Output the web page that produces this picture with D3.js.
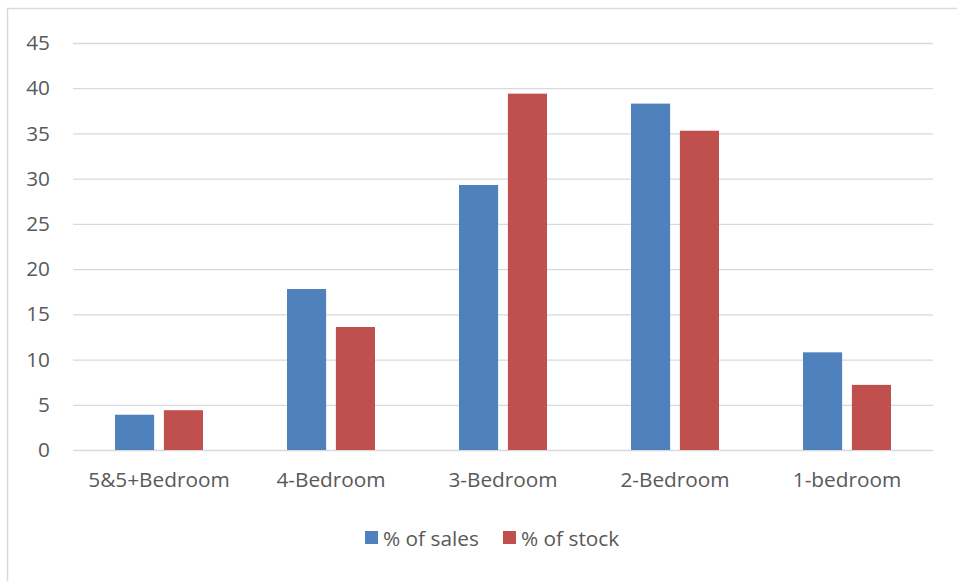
<!DOCTYPE html>
<html lang="en">
  <head>
    <meta charset="UTF-8" />
    <title>Sales vs stock by bedrooms</title>
    <script src="https://cdn.jsdelivr.net/npm/d3@7"></script>
    <style>
      body { margin: 0; background: #fff; }
      text { font-family: "Open Sans", sans-serif; fill: #595959; }
    </style>
  </head>
  <body>
    <svg width="957" height="581"></svg>
    <script>
      // data
      const categories = ["5&5+Bedroom", "4-Bedroom", "3-Bedroom", "2-Bedroom", "1-bedroom"];
      const seriesNames = ["% of sales", "% of stock"];
      const sales = [3.9, 17.8, 29.3, 38.3, 10.8];
      const stock = [4.4, 13.6, 39.4, 35.3, 7.2];
      const yTicks = [0, 5, 10, 15, 20, 25, 30, 35, 40, 45];
      const colors = ["#4F81BD", "#C0504D"];

      const svg = d3.select("svg");
      const plot = { left: 73, right: 933, top: 43, bottom: 450 };
      const fs = 20.8;

      // chart frame
      svg.append("path")
        .attr("d", "M957,8.5 H7.5 V581")
        .attr("fill", "none")
        .attr("stroke", "#d9d9d9")
        .attr("stroke-width", 1.5);

      const x = d3.scaleBand().domain(categories).range([plot.left, plot.right]);
      const xInner = d3.scaleBand().domain(seriesNames)
        .range([42, x.bandwidth() - 42]).paddingInner(0.2);
      const y = d3.scaleLinear().domain([0, 45]).range([plot.bottom, plot.top]);

      // gridlines + y labels
      const yAxis = d3.axisLeft(y).tickValues(yTicks)
        .tickSize(-(plot.right - plot.left)).tickPadding(23);
      const gy = svg.append("g").attr("transform", `translate(${plot.left},0)`).call(yAxis);
      gy.select(".domain").remove();
      gy.selectAll("line").attr("stroke", "#d9d9d9").attr("stroke-width", 1.3);
      gy.selectAll("text").attr("font-size", fs).style("fill", "#595959");

      const rows = categories.map((c, i) => ({ cat: c, vals: [sales[i], stock[i]] }));
      const groups = svg.append("g").selectAll("g").data(rows).join("g")
        .attr("transform", d => `translate(${x(d.cat)},0)`);
      groups.selectAll("rect")
        .data(d => d.vals.map((v, j) => ({ s: seriesNames[j], v, j })))
        .join("rect")
        .attr("x", d => xInner(d.s))
        .attr("width", xInner.bandwidth())
        .attr("y", d => y(d.v))
        .attr("height", d => y(0) - y(d.v))
        .attr("fill", d => colors[d.j]);

      // category labels
      const xAxis = d3.axisBottom(x).tickSize(0).tickPadding(22);
      const gx = svg.append("g").attr("transform", `translate(0,${plot.bottom})`).call(xAxis);
      gx.select(".domain").remove();
      gx.selectAll("text").attr("font-size", fs).style("fill", "#595959");

      // legend
      const legX = [365, 503];
      const leg = svg.append("g").selectAll("g").data(seriesNames).join("g")
        .attr("transform", (d, i) => `translate(${legX[i]},531)`);
      leg.append("rect").attr("width", 13).attr("height", 13).attr("fill", (d, i) => colors[i]);
      leg.append("text").attr("x", 18).attr("y", 14.5).attr("font-size", fs).text(d => d);
    </script>
  </body>
</html>
